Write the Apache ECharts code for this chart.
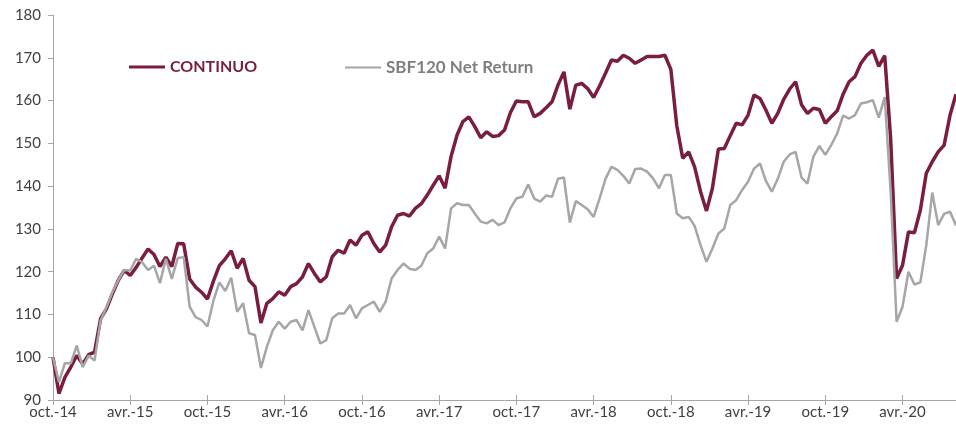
<!DOCTYPE html>
<html><head><meta charset="utf-8">
<script src="https://cdn.jsdelivr.net/npm/echarts@6/dist/echarts.min.js"></script>
<style>html,body{margin:0;padding:0;background:#fff}#c{width:956px;height:427px}</style>
</head><body><div id="c"></div>
<script>
// Tick labels (every 6 months, one every 13 two-week steps)
const tickLabels = ['oct.-14','avr.-15','oct.-15','avr.-16','oct.-16','avr.-17','oct.-17','avr.-18','oct.-18','avr.-19','oct.-19','avr.-20'];
const seriesNames = ['CONTINUO', 'SBF120 Net Return'];

// Values, one every two weeks from oct.-14
const continuo = [
100,91.5,95.3,97.7,100.4,98.4,100.6,101.2,109.0,111.3,
114.8,118.0,120.3,119.1,121.0,123.2,125.3,124.0,121.2,123.4,
121.2,126.6,126.5,118.3,116.4,115.2,113.6,117.8,121.4,123.0,
124.9,120.8,123.1,118.0,116.5,108.0,112.6,113.7,115.3,114.5,
116.5,117.2,118.8,121.9,119.6,117.6,118.8,123.5,125.0,124.3,
127.4,126.2,128.5,129.3,126.6,124.6,126.2,130.5,133.2,133.6,
133.0,134.8,135.9,137.9,140.2,142.4,139.5,146.9,151.9,155.1,
156.2,153.9,151.3,152.7,151.6,151.8,153.1,157.2,159.9,159.7,
159.7,156.2,157.0,158.3,159.7,163.6,166.7,158.0,163.6,164.0,
162.8,160.7,163.4,166.4,169.5,169.2,170.6,169.9,168.7,169.5,
170.3,170.3,170.3,170.6,167.3,154.1,146.5,148.0,144.5,138.7,
134.2,139.5,148.7,148.8,151.8,154.7,154.3,156.6,161.3,160.5,
157.8,154.7,157.0,160.3,162.7,164.4,159.0,157.0,158.2,157.9,
154.7,156.2,157.6,161.5,164.4,165.6,168.7,170.6,171.8,168.0,
170.5,151.1,118.4,121.5,129.3,129.1,134.4,143.0,145.7,148.0,
149.6,156.6,161.5
];
const sbf120 = [
100,94.2,98.6,98.6,102.7,97.7,100.4,99.2,108.6,111.7,
115.2,118.0,120.4,120.3,123.0,122.2,120.4,121.4,117.3,123.0,
118.3,123.2,123.4,111.8,109.4,108.7,107.2,113.2,117.5,115.5,
118.6,110.6,112.6,105.6,105.2,97.5,102.4,106.3,108.3,106.7,
108.3,108.7,106.3,111.0,107.1,103.2,104.0,109.1,110.2,110.2,
112.2,109.1,111.4,112.2,113.0,110.6,113.0,118.4,120.4,121.9,
120.7,120.4,121.4,124.3,125.4,128.2,125.4,134.8,136.0,135.6,
135.6,133.6,131.7,131.3,132.1,130.9,131.5,134.8,137.1,137.5,
140.4,137.1,136.4,137.8,137.5,141.7,142.0,131.5,136.5,135.6,
134.6,132.8,137.1,141.7,144.5,143.8,142.4,140.6,144.0,144.1,
143.4,141.8,139.5,142.6,142.6,133.6,132.5,132.8,130.7,126.2,
122.3,125.4,128.9,130.1,135.6,136.7,139.1,141.0,144.1,145.3,
141.2,138.7,141.7,145.7,147.4,148.0,142.0,140.6,146.9,149.4,
147.3,149.6,152.3,156.5,155.8,156.6,159.3,159.6,160.1,156.0,
160.8,138.7,108.3,111.8,120.0,117.0,117.5,126.2,138.5,130.9,
133.5,134.0,130.8
];

const stepsPerTick = 13;
const categories = continuo.map((_, i) => i % stepsPerTick === 0 ? tickLabels[i / stepsPerTick] : '');
const showTick = (idx) => idx % stepsPerTick === 0;

const RED = '#7a1e41', GREY = '#a6a6a6', AXIS = '#a6a6a6', TXT = '#404040';
const FONT = 'Lato';

const chart = echarts.init(document.getElementById('c'), null, {renderer: 'canvas'});
chart.setOption({
  animation: false,
  backgroundColor: '#ffffff',
  grid: {left: 53, right: 0, top: 15, bottom: 27, containLabel: false},
  legend: [
    {data: [{name: seriesNames[0], textStyle: {color: RED}}], left: 124, top: 54, icon: 'rect',
     itemWidth: 36, itemHeight: 3, itemGap: 0, selectedMode: false,
     textStyle: {fontFamily: FONT, fontWeight: 'bold', fontSize: 16}},
    {data: [{name: seriesNames[1], textStyle: {color: '#7f7f7f'}}], left: 340, top: 54, icon: 'rect',
     itemWidth: 36, itemHeight: 2, itemGap: 0, selectedMode: false,
     textStyle: {fontFamily: FONT, fontWeight: 'bold', fontSize: 17}}
  ],
  xAxis: [
    {type: 'category', data: categories, boundaryGap: false,
     axisLine: {lineStyle: {color: AXIS, width: 1}},
     axisTick: {show: true, interval: showTick, length: 5, lineStyle: {color: AXIS}},
     axisLabel: {interval: showTick, color: TXT, fontFamily: FONT, fontSize: 15, margin: 5},
     splitLine: {show: false}},
    {type: 'category', data: categories, boundaryGap: false, position: 'top', offset: -385,
     axisLine: {show: false},
     axisTick: {show: true, interval: showTick, length: 5, lineStyle: {color: AXIS}},
     axisLabel: {show: false}, splitLine: {show: false}}
  ],
  yAxis: {type: 'value', min: 90, max: 180, interval: 10,
    axisLine: {show: true, lineStyle: {color: AXIS, width: 1}},
    axisTick: {show: true, length: 5, lineStyle: {color: AXIS}},
    axisLabel: {color: TXT, fontFamily: FONT, fontSize: 15, margin: 12},
    splitLine: {show: false}},
  series: [
    {name: seriesNames[0], type: 'line', data: continuo, symbol: 'none', xAxisIndex: 0,
     lineStyle: {color: RED, width: 3.5}, itemStyle: {color: RED}, z: 2},
    {name: seriesNames[1], type: 'line', data: sbf120, symbol: 'none', xAxisIndex: 0,
     lineStyle: {color: GREY, width: 2.5}, itemStyle: {color: GREY}, z: 3}
  ]
});
</script></body></html>
